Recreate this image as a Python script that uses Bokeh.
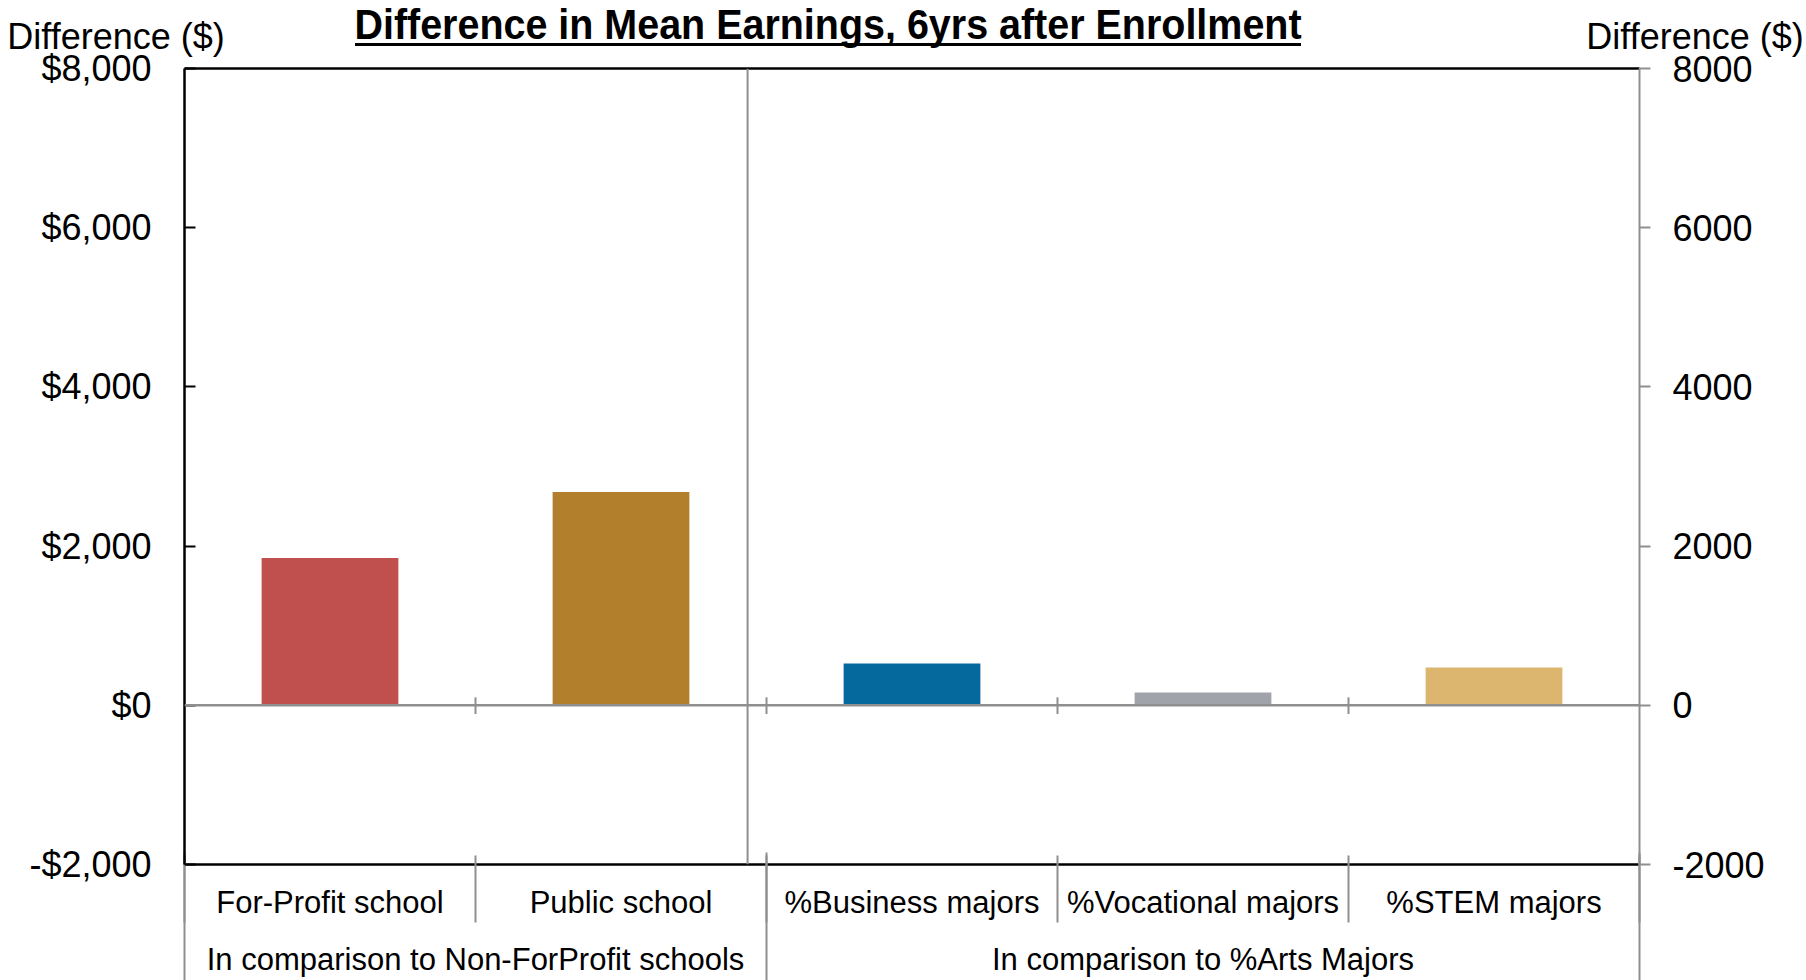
from bokeh.plotting import figure
from bokeh.models import Range1d, LinearAxis, FixedTicker, Span, ColumnDataSource, Div
from bokeh.layouts import column
from bokeh.embed import file_html
from bokeh.resources import INLINE

# ---------------- data ----------------
title_text = "Difference in Mean Earnings, 6yrs after Enrollment"
y_title = "Difference ($)"
categories = ["For-Profit school", "Public school", "%Business majors",
              "%Vocational majors", "%STEM majors"]
groups = ["In comparison to Non-ForProfit schools", "In comparison to %Arts Majors"]
group_sizes = [2, 3]
values = [1850, 2680, 525, 160, 475]
colors = ["#C0504D", "#B2802C", "#05699E", "#A0A3AA", "#DCB66E"]
y_ticks = [-2000, 0, 2000, 4000, 6000, 8000]

# ---------------- layout constants ----------------
W, H, HEAD = 1806, 980, 47
FL, FR, FT, FB = 184, 1639, 68, 864      # frame edges in page pixels
FONT = "Liberation Sans"
GRAY = "#8f8f8f"

# ---------------- header: title, underline, axis titles ----------------
header_html = f"""
<div style="position:relative;width:{W}px;height:{HEAD}px;margin:0;padding:0;overflow:visible;
            font-family:'{FONT}',Arial,sans-serif;color:#000;white-space:nowrap;">
  <div style="position:absolute;left:0px;top:3px;width:1656px;text-align:center;
              font-size:43px;line-height:43px;font-weight:bold;
              transform:scaleX(0.9175);transform-origin:50% 0;">{title_text}</div>
  <div style="position:absolute;left:355px;top:43px;width:946px;height:2.5px;
              background:#000;"></div>
  <div style="position:absolute;left:0px;top:18.5px;width:232px;text-align:center;
              font-size:36px;line-height:36px;">{y_title}</div>
  <div style="position:absolute;left:1575px;top:18.5px;width:240px;text-align:center;
              font-size:36px;line-height:36px;">{y_title}</div>
</div>
"""
header = Div(text=header_html, width=W, height=HEAD, margin=0,
             styles={"overflow": "visible", "z-index": "2", "position": "relative"})

# ---------------- main chart ----------------
n = len(categories)
p = figure(width=W, height=H - HEAD, x_range=Range1d(0, n),
           y_range=Range1d(y_ticks[0], y_ticks[-1]),
           toolbar_location=None, output_backend="svg",
           x_axis_location=None, y_axis_location=None,
           min_border_left=FL, min_border_right=W - FR,
           min_border_top=FT - HEAD, min_border_bottom=H - FB,
           outline_line_color=None, background_fill_color="white",
           border_fill_color=None)
for g in p.grid:
    g.visible = False

centers = [i + 0.5 for i in range(n)]
src = ColumnDataSource(dict(x=centers, top=values, color=colors, cat=categories))
p.vbar(x="x", top="top", bottom=0, width=0.47, fill_color="color",
       line_color=None, source=src)

# zero line and its boundary ticks
p.add_layout(Span(location=0, dimension="width", line_color=GRAY, line_width=2.5))
bounds = list(range(n + 1))
p.segment(x0=bounds[1:-1], y0=[-110] * (n - 1), x1=bounds[1:-1], y1=[100] * (n - 1),
          line_color=GRAY, line_width=2)
# divider line inside plot between the two panels
p.add_layout(Span(location=1.935, dimension="height", line_color=GRAY, line_width=2))

# left axis
fmt_left = {v: ("-$" if v < 0 else "$") + f"{abs(v):,}" for v in y_ticks}
yl = LinearAxis(ticker=FixedTicker(ticks=y_ticks, minor_ticks=[]),
                major_label_overrides=fmt_left,
                axis_line_color="black", axis_line_width=2.5,
                major_tick_in=11, major_tick_out=0, major_tick_line_color="black",
                major_tick_line_width=2, minor_tick_line_color=None,
                major_label_standoff=33, major_label_text_font=FONT,
                major_label_text_font_size="36px", major_label_text_color="black")
p.add_layout(yl, "left")

# right axis
fmt_right = {v: str(v) for v in y_ticks}
yr = LinearAxis(ticker=FixedTicker(ticks=y_ticks, minor_ticks=[]),
                major_label_overrides=fmt_right,
                axis_line_color=GRAY, axis_line_width=2,
                major_tick_in=0, major_tick_out=11, major_tick_line_color=GRAY,
                major_tick_line_width=2, minor_tick_line_color=None,
                major_label_standoff=22, major_label_text_font=FONT,
                major_label_text_font_size="36px", major_label_text_color="black")
p.add_layout(yr, "right")

# top frame line
xt = LinearAxis(ticker=FixedTicker(ticks=[], minor_ticks=[]),
                axis_line_color="black", axis_line_width=2.5,
                major_tick_line_color=None, minor_tick_line_color=None,
                major_tick_out=0, minor_tick_out=0, major_label_standoff=0)
p.add_layout(xt, "above")

# category axis (bottom, level 1)
cat_labels = {c: lab for c, lab in zip(centers, categories)}
xb = LinearAxis(ticker=FixedTicker(ticks=centers, minor_ticks=bounds),
                major_label_overrides=cat_labels,
                axis_line_color="black", axis_line_width=2.5,
                major_tick_in=0, major_tick_out=0, major_tick_line_color=None,
                minor_tick_in=9, minor_tick_out=58, minor_tick_line_color=GRAY,
                minor_tick_line_width=2,
                major_label_standoff=-38, major_label_text_font=FONT,
                major_label_text_font_size="31px", major_label_text_color="black")
p.add_layout(xb, "below")

# group axis (bottom, level 2)
gb = [0]
for s in group_sizes:
    gb.append(gb[-1] + s)
gcenters = [(gb[i] + gb[i + 1]) / 2 for i in range(len(groups))]
grp_labels = {c: lab for c, lab in zip(gcenters, groups)}
xg = LinearAxis(ticker=FixedTicker(ticks=gcenters, minor_ticks=gb),
                major_label_overrides=grp_labels,
                axis_line_color=None,
                major_tick_in=0, major_tick_out=0, major_tick_line_color=None,
                minor_tick_in=70, minor_tick_out=58, minor_tick_line_color=GRAY,
                minor_tick_line_width=2,
                major_label_standoff=-39, major_label_text_font=FONT,
                major_label_text_font_size="31px", major_label_text_color="black")
p.add_layout(xg, "below")

layout = column(header, p, spacing=0)
open("out.html", "w").write(file_html(layout, INLINE))
